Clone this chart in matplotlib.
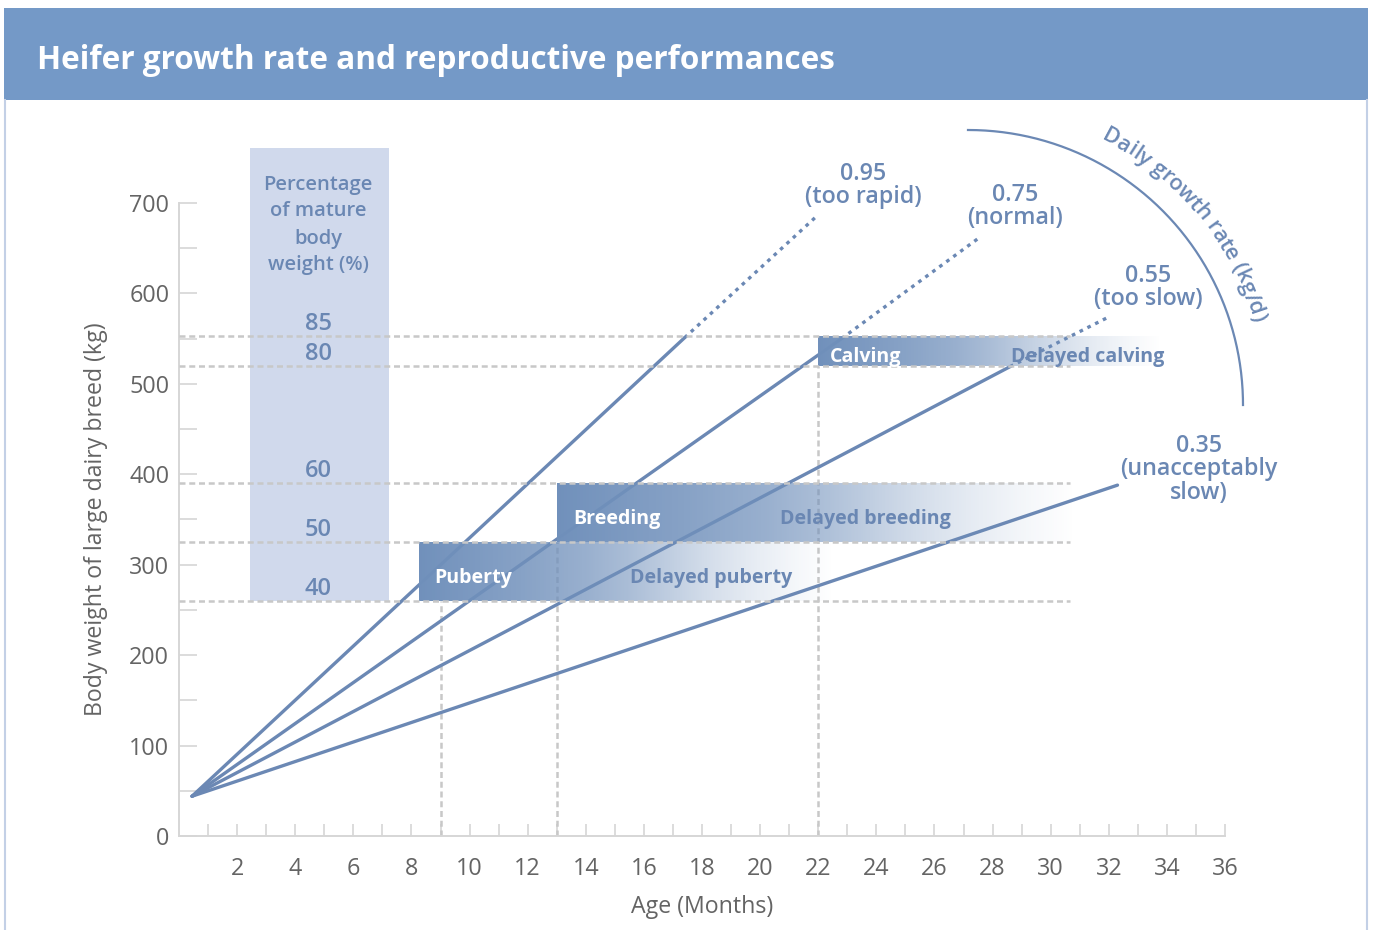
import numpy as np
import matplotlib
matplotlib.use('Agg')
import matplotlib.pyplot as plt
from matplotlib.font_manager import FontProperties
from matplotlib.patches import Rectangle

# ---------------- data ----------------
growth_rates = [0.95, 0.75, 0.55, 0.35]
rate_notes = [['(too rapid)'], ['(normal)'], ['(too slow)'], ['(unacceptably', 'slow)']]
start_age = 0.45
start_weight = 44
solid_end_age = [17.4, 22.8, 28.6, 32.3]
solid_end_weight = [551, 550, 519, 388]
dotted_end_age = [22.0, 27.6, 32.0, None]
dotted_end_weight = [687, 663, 574, None]

mature_weight = 650
pct_levels = [85, 80, 60, 50, 40]

stages = ['Puberty', 'Breeding', 'Calving']
stages_delayed = ['Delayed puberty', 'Delayed breeding', 'Delayed calving']
stage_age = [9, 13, 22]
stage_box_start = [8.25, 13, 22]
stage_box_end = [22.5, 30.8, 33.8]
stage_pct_low = [40, 50, 80]
stage_pct_high = [50, 60, 85]

x_ticks = list(range(1, 37))
x_labels = [str(v) if v % 2 == 0 else '' for v in x_ticks]
y_ticks = list(range(0, 701, 50))
y_labels = [str(v) if v % 100 == 0 else '' for v in y_ticks]

title = 'Heifer growth rate and reproductive performances'
x_title = 'Age (Months)'
y_title = 'Body weight of large dairy breed (kg)'
pct_title = ['Percentage', 'of mature', 'body', 'weight (%)']
arc_title = 'Daily growth rate (kg/d)'

# ---------------- style ----------------
FONT = ['Open Sans', 'DejaVu Sans']
plt.rcParams['font.family'] = FONT
LINE = '#6b88b4'
LABEL = '#6a87b3'
GRID = '#d6d6d6'
DASH = '#c8c8c8'
TXT = '#646464'
BAND = '#7499c7'
BORDER = '#c3d0e6'
COL = '#d0d9ec'
BOX = np.array([0.443, 0.565, 0.737])
SEMI = 'semibold'

W_PX, H_PX = 1373, 930
fig = plt.figure(figsize=(W_PX / 100, H_PX / 100), dpi=100)
fig.patch.set_facecolor('white')
renderer = fig.canvas.get_renderer()


def text_w(s, size, weight='normal'):
    fp = FontProperties(family=FONT, weight=weight, size=size)
    return renderer.get_text_width_height_descent(s, fp, ismath=False)[0]


def fit_size(s, target_px, weight='normal'):
    return 20 * target_px / text_w(s, 20, weight)


title_fs = fit_size(title, 798, 'bold')
tick_fs = fit_size('700', 40, 'normal')
axis_fs = fit_size(y_title, 393, 'normal')
box_fs = fit_size('Delayed breeding', 171, 'bold')
rate_fs = fit_size('(unacceptably', 157, SEMI)
pct_fs = fit_size('Percentage', 109, SEMI)
num_fs = fit_size('85', 27, SEMI)
arc_fs = fit_size(arc_title, 249, SEMI)

# ---------------- main axes ----------------
PX0, PX36 = 179, 1225
PY0, PY_PER_KG = 836, 0.90429
YMAX = 790
ax = fig.add_axes([PX0 / W_PX, (H_PX - PY0) / H_PX,
                   (PX36 - PX0) / W_PX, YMAX * PY_PER_KG / H_PX])
ax.patch.set_visible(False)
for s in ['top', 'right']:
    ax.spines[s].set_visible(False)
for s in ['left', 'bottom']:
    ax.spines[s].set_color(GRID)
    ax.spines[s].set_linewidth(1.4)
ax.spines['left'].set_bounds(0, 700)

ax.set_xticks(x_ticks)
ax.set_xticklabels(x_labels)
ax.set_yticks(y_ticks)
ax.set_yticklabels(y_labels)
ax.tick_params(axis='x', direction='in', length=8.6, width=1.2, color=GRID,
               pad=15, labelsize=tick_fs, labelcolor=TXT)
ax.tick_params(axis='y', direction='in', length=13, width=1.2, color=GRID,
               pad=7, labelsize=tick_fs, labelcolor=TXT)

# percentage column
col_x0, col_x1, col_top = 2.44, 7.23, 761
col_bottom = min(pct_levels) * mature_weight / 100
ax.add_patch(Rectangle((col_x0, col_bottom), col_x1 - col_x0, col_top - col_bottom,
                       facecolor=COL, edgecolor='none', zorder=1, clip_on=False))

# vertical dashed lines at target ages
ax.vlines(stage_age, 0, [p * mature_weight / 100 for p in stage_pct_low],
          colors=DASH, linewidth=1.8, linestyles=(0, (2.4, 1.5)), zorder=2)

# growth lines
for i, r in enumerate(growth_rates):
    ax.plot([start_age, solid_end_age[i]], [start_weight, solid_end_weight[i]],
            color=LINE, lw=2.4, solid_capstyle='round', zorder=3)
    if dotted_end_age[i] is not None:
        ax.plot([solid_end_age[i], dotted_end_age[i]],
                [solid_end_weight[i], dotted_end_weight[i]],
                color=LINE, lw=2.4, linestyle=(0, (1.1, 1.5)),
                dash_capstyle='butt', zorder=3, clip_on=False)

# gradient boxes
n = 400
t = np.linspace(0, 1, n)
alpha = np.interp(t, [0, 0.25, 0.4, 0.5, 0.6, 0.7, 0.8, 0.9, 1.0],
                  [1.0, 0.84, 0.72, 0.6, 0.45, 0.3, 0.18, 0.08, 0.0])
rgba = np.zeros((1, n, 4))
rgba[0, :, :3] = BOX
rgba[0, :, 3] = alpha
for i in range(len(stages)):
    y0 = stage_pct_low[i] * mature_weight / 100
    y1 = stage_pct_high[i] * mature_weight / 100
    ax.imshow(rgba, extent=[stage_box_start[i], stage_box_end[i], y0, y1],
              aspect='auto', interpolation='bilinear', zorder=4)

# horizontal dashed lines
ax.hlines([p * mature_weight / 100 for p in pct_levels], 0, 30.66,
          colors=DASH, linewidth=1.8, linestyles=(0, (2.4, 1.5)), zorder=5)

# percentage numbers
for p in pct_levels:
    ax.annotate(str(p), (4.8, p * mature_weight / 100), xytext=(0, 4.5),
                textcoords='offset points', ha='center', va='baseline',
                fontsize=num_fs, color=LABEL, weight=SEMI, zorder=6)

ax.set_xlim(0, 36)
ax.set_ylim(0, YMAX)

# ---------------- overlay (pixel coordinates) ----------------
ov = fig.add_axes([0, 0, 1, 1], zorder=5)
ov.axis('off')
ov.add_patch(Rectangle((4, 8), 1364, 92, facecolor=BAND, edgecolor='none'))
ov.plot([5, 5], [100, 930], color=BORDER, lw=1.5)
ov.plot([1367, 1367], [100, 930], color=BORDER, lw=1.5)
ov.text(37, 69, title, color='white', fontsize=title_fs, weight='bold',
        ha='left', va='baseline')

ov.text(702, 913, x_title, color=TXT, fontsize=axis_fs, ha='center', va='baseline')
ov.text(102, 519, y_title, color=TXT, fontsize=axis_fs, rotation=90,
        rotation_mode='anchor', ha='center', va='baseline')

# column header
for k, line in enumerate(pct_title):
    ov.text(318, [190, 216, 244, 270][k], line, color=LABEL, fontsize=pct_fs,
            weight=SEMI, ha='center', va='baseline')

# stage labels
stage_label_pos = [(434, 583), (573, 524), (830, 362)]
delayed_label_pos = [(630, 583), (780, 524), (1011, 362)]
for i in range(len(stages)):
    ov.text(*stage_label_pos[i], stages[i], color='white', fontsize=box_fs,
            weight='bold', ha='left', va='baseline')
    ov.text(*delayed_label_pos[i], stages_delayed[i], color=LABEL, fontsize=box_fs,
            weight='bold', ha='left', va='baseline')

# rate labels
rate_label_pos = [(863, 180), (1015, 201), (1148, 282), (1199, 452)]
for i, r in enumerate(growth_rates):
    x, y = rate_label_pos[i]
    ov.text(x, y, f'{r:.2f}', color=LABEL, fontsize=rate_fs, weight=SEMI,
            ha='center', va='baseline')
    for k, line in enumerate(rate_notes[i]):
        ov.text(x, y + 23 + 24 * k, line, color=LABEL, fontsize=rate_fs,
                weight=SEMI, ha='center', va='baseline')

# arc
cx, cy, rad = 968, 405, 275
th = np.radians(np.linspace(0, 90, 200))
ov.plot(cx + rad * np.sin(th), cy - rad * np.cos(th), color=LINE, lw=1.6)

# curved text
cum = [0.0]
for i in range(1, len(arc_title) + 1):
    cum.append(text_w(arc_title[:i] + 'l', arc_fs, SEMI) - text_w('l', arc_fs, SEMI))
total = cum[-1]
r_ang, r_base = 302, 297
th_c = np.radians(50.3)
for i, ch in enumerate(arc_title):
    if ch == ' ':
        continue
    c = 0.5 * (cum[i] + cum[i + 1])
    a = th_c + (c - total / 2) / r_ang
    ov.text(cx + r_base * np.sin(a), cy - r_base * np.cos(a), ch, color=LINE,
            fontsize=arc_fs, weight=SEMI, ha='center', va='baseline',
            rotation=-np.degrees(a), rotation_mode='anchor')

ov.set_xlim(0, W_PX)
ov.set_ylim(H_PX, 0)

fig.savefig('out.png', dpi=100, facecolor='white')
